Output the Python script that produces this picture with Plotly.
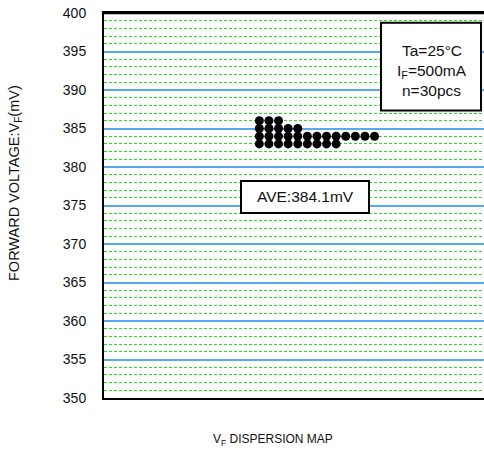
import plotly.graph_objects as go

# Data: 30 measured forward-voltage samples, stacked in columns
column = [1, 1, 1, 1, 2, 2, 2, 2, 3, 3, 3, 3, 4, 4, 4, 5, 5, 5,
          6, 6, 7, 7, 8, 8, 9, 9, 10, 11, 12, 13]
vf_mv = [386, 385, 384, 383, 386, 385, 384, 383, 386, 385, 384, 383,
         385, 384, 383, 385, 384, 383, 384, 383, 384, 383, 384, 383,
         384, 383, 384, 384, 384, 384]
y_ticks = [350, 355, 360, 365, 370, 375, 380, 385, 390, 395, 400]
cond_lines = ["Ta=25°C", "I<sub>F</sub>=500mA", "n=30pcs"]
ave_label = "AVE:384.1mV"

FONT = "Liberation Sans, Arial, sans-serif"
PW, PH = 380.0, 385.0   # plot area size in px (page: x 104..484, y 13..398)


def px(xp):
    return (xp - 104) / PW


def py(yp):
    return 1 - (yp - 13) / PH


fig = go.Figure()
fig.add_trace(go.Scatter(
    x=column, y=vf_mv, mode="markers",
    marker=dict(size=9, color="black"),
    hoverinfo="skip", showlegend=False,
))

fig.update_layout(
    width=484, height=457,
    margin=dict(l=104, r=0, t=13, b=59),
    paper_bgcolor="white", plot_bgcolor="white",
    font=dict(family=FONT, size=14, color="#111"),
    showlegend=False,
)
fig.update_xaxes(
    range=[-15.18, 24.4], showgrid=False, zeroline=False,
    showticklabels=False, ticks="",
    showline=True, linecolor="black", linewidth=2, mirror=True,
)
fig.update_yaxes(
    range=[350, 400], tickvals=y_ticks, ticktext=[str(v) for v in y_ticks],
    showgrid=True, gridcolor="#55aaee", gridwidth=1.5,
    zeroline=False, ticks="", ticklabelstandoff=13,
    tickfont=dict(size=14, color="#111"),
    showline=True, linecolor="black", linewidth=2, mirror=False,
    minor=dict(dtick=1, tick0=350, showgrid=True, gridcolor="#22e022",
               griddash="3px,2px", gridwidth=1),
)

# Top frame line (plot border)
fig.add_shape(type="line", xref="paper", yref="paper", x0=0, x1=1, y0=1, y1=1,
              line=dict(color="black", width=2.5), layer="above")

# Condition box
fig.add_shape(type="rect", xref="paper", yref="paper",
              x0=px(381), x1=px(481), y0=py(110.5), y1=py(22.7),
              line=dict(color="black", width=2), fillcolor="white", layer="above")
for txt, yy in zip(cond_lines, [50, 71.5, 90.5]):
    fig.add_annotation(xref="paper", yref="paper", x=px(431.5), y=py(yy), text=txt,
                       showarrow=False, font=dict(size=15.5, family=FONT, color="#111"),
                       xanchor="center", yanchor="middle")

# Average box
fig.add_shape(type="rect", xref="paper", yref="paper",
              x0=px(241), x1=px(369), y0=py(213), y1=py(181),
              line=dict(color="black", width=2), fillcolor="white", layer="above")
fig.add_annotation(xref="paper", yref="paper", x=px(305), y=py(197),
                   text=ave_label, showarrow=False,
                   font=dict(size=15.5, family=FONT, color="#111"),
                   xanchor="center", yanchor="middle")

# Axis titles
fig.add_annotation(xref="paper", yref="paper", x=px(15), y=py(183),
                   text="FORWARD VOLTAGE:V<sub>F</sub>(mV)", textangle=-90,
                   showarrow=False, font=dict(size=14.5, family=FONT, color="#111"),
                   xanchor="center", yanchor="middle")
fig.add_annotation(xref="paper", yref="paper", x=px(273), y=py(440),
                   text="V<sub>F</sub> DISPERSION MAP", showarrow=False,
                   font=dict(size=12, family=FONT, color="#111"),
                   xanchor="center", yanchor="middle")

fig.write_html("out.html", config={"displayModeBar": False},
               post_script="document.body.style.margin='0';document.body.style.overflow='hidden';")
